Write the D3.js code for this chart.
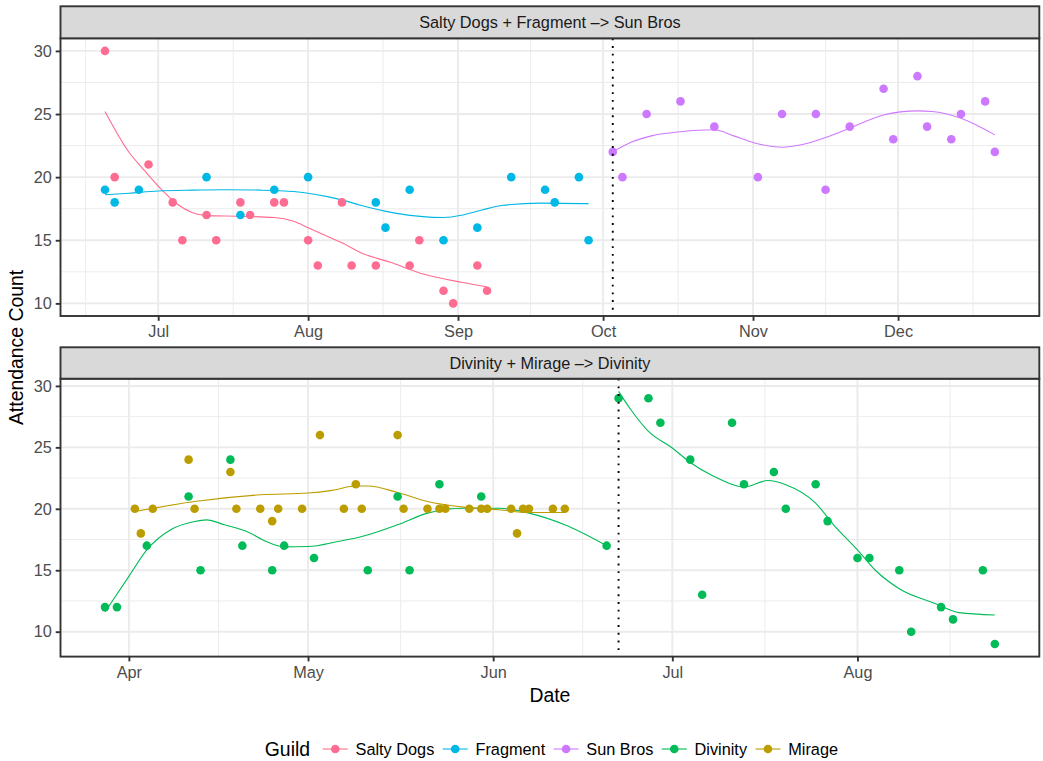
<!DOCTYPE html>
<meta charset="utf-8">
<script src="https://d3js.org/d3.v7.min.js"></script>
<style>
  body { margin: 0; background: #fff; }
  svg text { font-family: "Liberation Sans", Arial, Helvetica, sans-serif; }
</style>
<div id="chart"></div>
<script>
// guilds in legend order + their colours
var guilds = ["Salty Dogs", "Fragment", "Sun Bros", "Divinity", "Mirage"];
var guildColors = ["#FF6C91", "#00B8E5", "#CD79FF", "#00BB57", "#BC9D00"];

var panelTitles = ["Salty Dogs + Fragment \u2013> Sun Bros", "Divinity + Mirage \u2013> Divinity"];
var mergeDates = ["2018-10-03", "2018-06-22"];
var yTicks = [10, 15, 20, 25, 30];

// attendance per raid night: [date, count]
var saltyDogs = [["2018-06-20",30],["2018-06-22",20],["2018-06-29",21],["2018-07-04",18],["2018-07-06",15],
  ["2018-07-11",17],["2018-07-13",15],["2018-07-18",18],["2018-07-20",17],["2018-07-25",18],["2018-07-27",18],
  ["2018-08-01",15],["2018-08-03",13],["2018-08-08",18],["2018-08-10",13],["2018-08-15",13],["2018-08-22",13],
  ["2018-08-24",15],["2018-08-29",11],["2018-08-31",10],["2018-09-05",13],["2018-09-07",11]];
var fragment = [["2018-06-20",19],["2018-06-22",18],["2018-06-27",19],["2018-07-11",20],["2018-07-18",17],
  ["2018-07-25",19],["2018-08-01",20],["2018-08-15",18],["2018-08-17",16],["2018-08-22",19],["2018-08-29",15],
  ["2018-09-05",16],["2018-09-12",20],["2018-09-19",19],["2018-09-21",18],["2018-09-26",20],["2018-09-28",15]];
var sunBros = [["2018-10-03",22],["2018-10-05",20],["2018-10-10",25],["2018-10-17",26],["2018-10-24",24],
  ["2018-11-02",20],["2018-11-07",25],["2018-11-14",25],["2018-11-16",19],["2018-11-21",24],["2018-11-28",27],
  ["2018-11-30",23],["2018-12-05",28],["2018-12-07",24],["2018-12-12",23],["2018-12-14",25],["2018-12-19",26],
  ["2018-12-21",22]];
var divinityBefore = [["2018-03-28",12],["2018-03-30",12],["2018-04-04",17],["2018-04-11",21],["2018-04-13",15],
  ["2018-04-18",24],["2018-04-20",17],["2018-04-25",15],["2018-04-27",17],["2018-05-02",16],["2018-05-11",15],
  ["2018-05-16",21],["2018-05-18",15],["2018-05-23",22],["2018-05-30",21],["2018-06-20",17]];
var divinityAfter = [["2018-06-22",29],["2018-06-27",29],["2018-06-29",27],["2018-07-04",24],["2018-07-06",13],
  ["2018-07-11",27],["2018-07-13",22],["2018-07-18",23],["2018-07-20",20],["2018-07-25",22],["2018-07-27",19],
  ["2018-08-01",16],["2018-08-03",16],["2018-08-08",15],["2018-08-10",10],["2018-08-15",12],["2018-08-17",11],
  ["2018-08-22",15],["2018-08-24",9]];
var mirage = [["2018-04-02",20],["2018-04-03",18],["2018-04-05",20],["2018-04-11",24],["2018-04-12",20],
  ["2018-04-18",23],["2018-04-19",20],["2018-04-23",20],["2018-04-25",19],["2018-04-26",20],["2018-04-30",20],
  ["2018-05-03",26],["2018-05-07",20],["2018-05-09",22],["2018-05-10",20],["2018-05-16",26],["2018-05-17",20],
  ["2018-05-21",20],["2018-05-23",20],["2018-05-24",20],["2018-05-28",20],["2018-05-30",20],["2018-05-31",20],
  ["2018-06-04",20],["2018-06-05",18],["2018-06-06",20],["2018-06-07",20],["2018-06-11",20],["2018-06-13",20]];

// smoothed trend lines: [date, count]
var saltyDogsTrend = [["2018-06-20",25.2],["2018-06-25",21.95],["2018-06-28",20.6],["2018-07-02",18.9],
  ["2018-07-05",17.85],["2018-07-08",17.2],["2018-07-11",16.95],["2018-07-18",16.9],["2018-07-25",16.8],
  ["2018-07-29",16.5],["2018-08-01",16.0],["2018-08-05",15.3],["2018-08-08",14.8],["2018-08-12",14.0],
  ["2018-08-18",13.25],["2018-08-25",12.3],["2018-09-02",11.65],["2018-09-07",11.3]];
var fragmentTrend = [["2018-06-20",18.6],["2018-06-25",18.73],["2018-07-01",18.9],["2018-07-08",18.97],
  ["2018-07-15",19.0],["2018-07-22",18.97],["2018-07-29",18.86],["2018-08-01",18.73],["2018-08-05",18.46],
  ["2018-08-08",18.2],["2018-08-12",17.75],["2018-08-19",17.15],["2018-08-29",16.8],["2018-09-02",17.0],
  ["2018-09-06",17.4],["2018-09-10",17.75],["2018-09-18",17.94],["2018-09-28",17.9]];
var sunBrosTrend = [["2018-10-03",22.0],["2018-10-07",22.8],["2018-10-11",23.27],["2018-10-17",23.6],
  ["2018-10-24",23.75],["2018-10-28",23.27],["2018-11-01",22.74],["2018-11-07",22.37],["2018-11-11",22.56],
  ["2018-11-16",23.14],["2018-11-21",23.88],["2018-11-28",24.93],["2018-12-05",25.25],["2018-12-08",25.2],
  ["2018-12-14",24.67],["2018-12-21",23.35]];
var divinityBeforeTrend = [["2018-03-28",11.6],["2018-04-01",14.5],["2018-04-04",16.66],["2018-04-08",18.3],
  ["2018-04-12",18.97],["2018-04-14",19.1],["2018-04-17",18.7],["2018-04-21",18.1],["2018-04-24",17.34],
  ["2018-04-27",16.9],["2018-05-01",16.93],["2018-05-06",17.34],["2018-05-10",17.74],["2018-05-16",18.7],
  ["2018-05-21",19.65],["2018-05-27",20.05],["2018-06-02",20.05],["2018-06-07",19.65],["2018-06-13",18.7],
  ["2018-06-20",17.0]];
var divinityAfterTrend = [["2018-06-22",29.56],["2018-06-24",28.1],["2018-06-27",26.3],["2018-07-01",24.95],
  ["2018-07-04",23.77],["2018-07-08",22.63],["2018-07-13",21.77],["2018-07-17",22.3],["2018-07-20",21.96],
  ["2018-07-25",20.46],["2018-07-28",18.7],["2018-08-01",16.66],["2018-08-04",15.0],["2018-08-08",13.5],
  ["2018-08-14",12.3],["2018-08-18",11.55],["2018-08-24",11.36]];
var mirageTrend = [["2018-04-02",19.78],["2018-04-12",20.6],["2018-04-23",21.14],["2018-05-01",21.28],
  ["2018-05-05",21.5],["2018-05-09",21.85],["2018-05-11",21.85],["2018-05-16",21.33],["2018-05-21",20.6],
  ["2018-05-27",20.14],["2018-06-02",19.92],["2018-06-07",19.7],["2018-06-13",19.7]];

var parse = d3.utcParse("%Y-%m-%d");
function colorOf(g) { return guildColors[guilds.indexOf(g)]; }

// which series go into which facet (drawing order)
var facets = [
  [ {guild: "Salty Dogs", pts: saltyDogs, trend: saltyDogsTrend},
    {guild: "Fragment", pts: fragment, trend: fragmentTrend},
    {guild: "Sun Bros", pts: sunBros, trend: sunBrosTrend} ],
  [ {guild: "Divinity", pts: divinityBefore, trend: divinityBeforeTrend},
    {guild: "Divinity", pts: divinityAfter, trend: divinityAfterTrend},
    {guild: "Mirage", pts: mirage, trend: mirageTrend} ]
];

var width = 1043, height = 761;
var left = 60.5, right = 1039.3;
var boxes = [ {strip: 6.3, top: 38.3, bottom: 316},
              {strip: 347.3, top: 378.7, bottom: 656.6} ];
var tickLen = 4.8;
var smallFont = "16.3px", bigFont = "19.4px";

var svg = d3.select("#chart").append("svg")
    .attr("width", width).attr("height", height);

function expand(ext) {
  var pad = (ext[1] - ext[0]) * 0.05;
  return [ext[0] - pad, ext[1] + pad];
}

facets.forEach(function(series, i) {
  var box = boxes[i];
  var allPts = [].concat.apply([], series.map(function(s) { return s.pts; }));
  var allVals = allPts.map(function(d) { return d[1]; })
    .concat([].concat.apply([], series.map(function(s) { return s.trend.map(function(d) { return d[1]; }); })));

  var xExt = d3.extent(allPts, function(d) { return parse(d[0]); });
  var xd = expand([+xExt[0], +xExt[1]]);
  var x = d3.scaleUtc().domain([new Date(xd[0]), new Date(xd[1])]).range([left, right]);
  var y = d3.scaleLinear().domain(expand(d3.extent(allVals))).range([box.bottom, box.top]);

  var g = svg.append("g");

  // panel background
  g.append("rect").attr("x", left).attr("y", box.top)
    .attr("width", right - left).attr("height", box.bottom - box.top).attr("fill", "#fff");

  // month breaks and mid-month minor breaks
  var months = d3.utcMonth.range(d3.utcMonth.offset(d3.utcMonth.floor(x.domain()[0]), -1),
                                 d3.utcMonth.offset(x.domain()[1], 2));
  var majors = months.filter(function(m) { return m >= x.domain()[0] && m <= x.domain()[1]; });
  var minorsX = [];
  for (var k = 0; k < months.length - 1; k++) {
    var mid = new Date((+months[k] + +months[k + 1]) / 2);
    if (mid >= x.domain()[0] && mid <= x.domain()[1]) minorsX.push(mid);
  }
  var minorsY = [];
  for (var v = 7.5; v <= 32.5; v += 5) if (v >= y.domain()[0] && v <= y.domain()[1]) minorsY.push(v);

  g.selectAll(".minx").data(minorsX).enter().append("line")
    .attr("x1", x).attr("x2", x).attr("y1", box.top).attr("y2", box.bottom)
    .attr("stroke", "#EBEBEB").attr("stroke-width", 0.95);
  g.selectAll(".miny").data(minorsY).enter().append("line")
    .attr("x1", left).attr("x2", right).attr("y1", y).attr("y2", y)
    .attr("stroke", "#EBEBEB").attr("stroke-width", 0.95);
  g.selectAll(".majx").data(majors).enter().append("line")
    .attr("x1", x).attr("x2", x).attr("y1", box.top).attr("y2", box.bottom)
    .attr("stroke", "#EBEBEB").attr("stroke-width", 1.9);
  g.selectAll(".majy").data(yTicks).enter().append("line")
    .attr("x1", left).attr("x2", right).attr("y1", y).attr("y2", y)
    .attr("stroke", "#EBEBEB").attr("stroke-width", 1.9);

  // trend lines
  var line = d3.line()
    .x(function(d) { return x(parse(d[0])); })
    .y(function(d) { return y(d[1]); })
    .curve(d3.curveMonotoneX);
  series.forEach(function(s) {
    g.append("path").attr("d", line(s.trend))
      .attr("fill", "none").attr("stroke", colorOf(s.guild)).attr("stroke-width", 1.1);
  });

  // points
  series.forEach(function(s) {
    g.selectAll(null).data(s.pts).enter().append("circle")
      .attr("cx", function(d) { return x(parse(d[0])); })
      .attr("cy", function(d) { return y(d[1]); })
      .attr("r", 4.3)
      .attr("fill", colorOf(s.guild));
  });

  // merge date
  var mx = x(parse(mergeDates[i]));
  g.append("line").attr("x1", mx).attr("x2", mx).attr("y1", box.top).attr("y2", box.bottom)
    .attr("stroke", "#000").attr("stroke-width", 1.9).attr("stroke-dasharray", "1.9,5.8");

  // panel border
  g.append("rect").attr("x", left).attr("y", box.top)
    .attr("width", right - left).attr("height", box.bottom - box.top)
    .attr("fill", "none").attr("stroke", "#333333").attr("stroke-width", 1.9);

  // strip
  g.append("rect").attr("x", left).attr("y", box.strip)
    .attr("width", right - left).attr("height", box.top - box.strip)
    .attr("fill", "#D9D9D9").attr("stroke", "#333333").attr("stroke-width", 1.9);
  g.append("text").attr("x", (left + right) / 2).attr("y", (box.strip + box.top) / 2)
    .attr("dy", "0.35em").attr("text-anchor", "middle")
    .style("font-size", smallFont).attr("fill", "#1A1A1A")
    .text(panelTitles[i]);

  // axes
  var xAxis = g.append("g").attr("transform", "translate(0," + box.bottom + ")")
    .call(d3.axisBottom(x).tickValues(majors).tickFormat(d3.utcFormat("%b"))
      .tickSize(tickLen).tickPadding(3.9));
  var yAxis = g.append("g").attr("transform", "translate(" + left + ",0)")
    .call(d3.axisLeft(y).tickValues(yTicks).tickSize(tickLen).tickPadding(3.9));
  [xAxis, yAxis].forEach(function(a) {
    a.select(".domain").remove();
    a.selectAll(".tick line").attr("stroke", "#333333").attr("stroke-width", 1.9);
    a.selectAll(".tick text").attr("fill", "#4D4D4D")
      .style("font-size", smallFont).style("font-family", "'Liberation Sans', Arial, sans-serif");
  });
  xAxis.selectAll(".tick text").attr("dy", "0.76em");
});

// axis titles
svg.append("text").attr("transform", "translate(22.5," + ((boxes[0].top + boxes[1].bottom) / 2) + ") rotate(-90)")
  .attr("text-anchor", "middle").style("font-size", bigFont).text("Attendance Count");
svg.append("text").attr("x", (left + right) / 2).attr("y", 702)
  .attr("text-anchor", "middle").style("font-size", bigFont).text("Date");

// legend
var legend = svg.append("g");
var ly = 749, lx = 0;
var title = legend.append("text").attr("x", lx).attr("y", ly).attr("dy", "0.35em")
  .style("font-size", bigFont).text("Guild");
lx += title.node().getComputedTextLength() + 12.7;
guilds.forEach(function(gname, i) {
  legend.append("line").attr("x1", lx).attr("x2", lx + 25).attr("y1", ly).attr("y2", ly)
    .attr("stroke", guildColors[i]).attr("stroke-width", 1.1);
  legend.append("circle").attr("cx", lx + 12.5).attr("cy", ly).attr("r", 4.3).attr("fill", guildColors[i]);
  lx += 25 + 7.8;
  var t = legend.append("text").attr("x", lx).attr("y", ly).attr("dy", "0.35em")
    .style("font-size", smallFont).text(gname);
  lx += t.node().getComputedTextLength() + 8.4;
});
lx -= 8.4;
legend.attr("transform", "translate(" + (551.4 - lx / 2) + ",0)");
</script>
